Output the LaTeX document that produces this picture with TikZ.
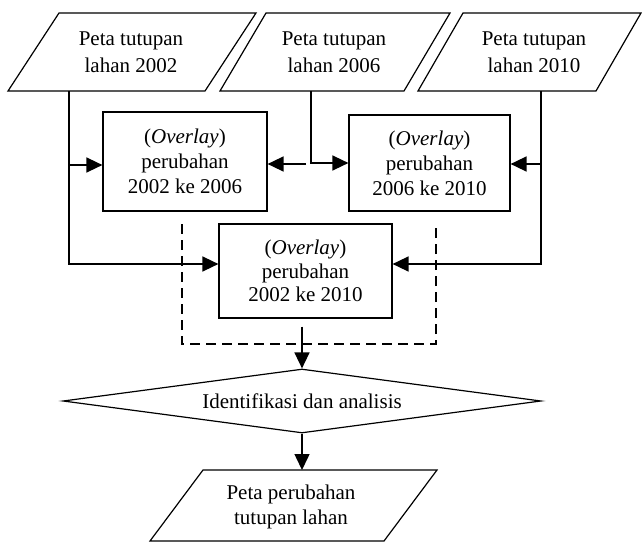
\documentclass[tikz,border=0pt]{standalone}
\usepackage{fontspec}
\setmainfont{Liberation Serif}
\usetikzlibrary{shapes.geometric,arrows.meta}

\begin{document}
\begin{tikzpicture}[x=1pt,y=-1pt,
		>={Triangle[length=16pt,width=15pt]},
		font=\fontsize{21}{27}\selectfont,
		garis/.style={line width=1.2pt, line join=miter},
		teks/.style={align=center, inner sep=0pt},
		olah/.style={rectangle, draw, line width=1.2pt, inner sep=0pt, align=center, font=\fontsize{21}{25}\selectfont},
		panah/.style={->, line width=1.5pt},
		putus/.style={line width=1.4pt, dash pattern=on 10pt off 6pt}]
		\useasboundingbox (0,0) rectangle (642,543);
		% peta tutupan lahan
		\draw[garis] (8,91) -- (59,13) -- (256,13) -- (205,91) -- cycle;
		\node[teks] (peta02) at (131,52) {Peta tutupan\\lahan 2002};
		\draw[garis] (220,91) -- (266,13) -- (450,13) -- (404,91) -- cycle;
		\node[teks] (peta06) at (334,52) {Peta tutupan\\lahan 2006};
		\draw[garis] (418,91) -- (463,13) -- (641,13) -- (596,91) -- cycle;
		\node[teks] (peta10) at (534,52) {Peta tutupan\\lahan 2010};
		% overlay
		\node[olah, minimum width=164pt, minimum height=99pt] (ov0206) at (185,161.5) {(\textit{Overlay})\\perubahan\\2002 ke 2006};
		\node[olah, minimum width=161pt, minimum height=96pt] (ov0610) at (429.5,163) {(\textit{Overlay})\\perubahan\\2006 ke 2010};
		\node[olah, minimum width=173pt, minimum height=94pt, font=\fontsize{21}{23.5}\selectfont] (ov0210) at (305.5,271) {(\textit{Overlay})\\perubahan\\2002 ke 2010};
		\draw[putus] (182,224) |- (436,344) -- (436,224);
		% analisis
		\node[diamond, draw, line width=1.2pt, aspect=7.5, inner sep=0pt, minimum width=478pt, minimum height=64pt] (ident) at (302,401) {Identifikasi dan analisis};
		\draw[garis] (150,541) -- (203,470) -- (437,470) -- (384,541) -- cycle;
		\node[teks, font=\fontsize{21}{25}\selectfont] (hasil) at (291,507) {Peta perubahan\\tutupan lahan};
		% titik bantu
		\coordinate (a02) at (69,91);
		\coordinate (j02) at (69,165);
		\coordinate (a06) at (311,91);
		\coordinate (b06) at (306,164);
		\coordinate (a10) at (541,91);
		\coordinate (j10) at (541,164);
		\coordinate (kiri) at (ov0210.west |- 0,264);
		\coordinate (kanan) at (ov0210.east |- 0,264);
		\coordinate (atas) at (307,470);
		% panah
		\draw[panah] (a02) |- (kiri);
		\draw[panah] (j02) -- (j02 -| ov0206.west);
		\draw[panah] (a06) |- (a06 |- ov0610.west) -- (ov0610.west);
		\draw[panah] (b06) -- (b06 -| ov0206.east);
		\draw[panah] (a10) |- (kanan);
		\draw[panah] (j10) -- (j10 -| ov0610.east);
		\draw[panah] ([yshift=-8pt]ov0210.south -| ident.north) -- (ident.north);
		\draw[panah] (ident.south) -- (ident.south |- atas);
	\end{tikzpicture}
\end{document}
